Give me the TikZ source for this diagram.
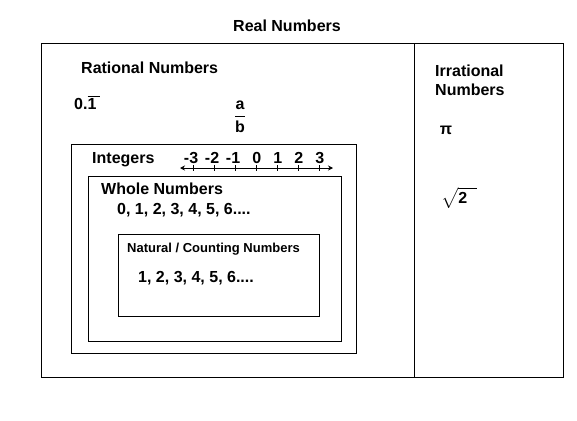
\documentclass[tikz,border=0pt]{standalone}
\usepackage{fontspec}
\setmainfont{Liberation Sans}
\usepackage{amsmath}
\usetikzlibrary{arrows.meta,positioning}

\newcommand{\repeating}[1]{\vbox{\hrule height 0.8pt\kern1.5pt\hbox{#1\kern4pt}}}

\begin{document}
\begin{tikzpicture}[
    x=1pt, y=-1pt,
    set/.style={rectangle, draw, line width=1pt, anchor=north west, inner sep=0pt},
    txt/.style={font=\fontsize{16}{19}\selectfont\bfseries, inner sep=0pt},
    small/.style={font=\fontsize{13}{16}\selectfont\bfseries, inner sep=0pt},
    numline/.style={line width=0.8pt, {Stealth[length=5pt,width=5pt]}-{Stealth[length=5pt,width=5pt]}}
]
\useasboundingbox (0,0) rectangle (577,420);

% Real Numbers
\node[txt] (real) at (287,26) {Real Numbers};
\node[set, minimum width=373pt, minimum height=334pt] (rational) at (41,43) {};
\node[set, minimum width=149pt, minimum height=334pt] (irrational) at (414,43) {};

% Rational side
\node[txt, anchor=west] (ratlabel) at (81,68) {Rational Numbers};
\node[txt, anchor=west] (repdec) at (74,103) {0.\repeating{1}};
\node[txt] (ratio) at (240,115) {$\dfrac{\textbf{a}\vphantom{b}}{\textbf{b}}$};

% Integers
\node[set, minimum width=285pt, minimum height=209pt] (integers) at (71,144) {};
\node[txt, anchor=west] (intlabel) at (92,160) {Integers};
\coordinate (lineL) at (180,168);
\coordinate (lineR) at (333,168);
\draw[numline] (lineL) -- (lineR);
\foreach \n in {-3,...,3} {
    \pgfmathtruncatemacro\m{abs(\n)}
    \draw[line width=0.8pt] (256.7+21*\n,165) -- (256.7+21*\n,171);
    \node[txt, anchor=base] (tick\m\ifnum\n<0 n\fi) at (256.7+21*\n,163.5) {\ifnum\n<0 \llap{-}\fi\m};
}

% Whole Numbers
\node[set, minimum width=253pt, minimum height=165pt] (whole) at (88,176) {};
\node[txt, anchor=west] (wholelabel) at (101,189) {Whole Numbers};
\node[txt, anchor=west] (wholelist) at (117,210) {0, 1, 2, 3, 4, 5, 6....};

% Natural / Counting Numbers
\node[set, minimum width=201pt, minimum height=82pt] (natural) at (118,234) {};
\node[small, anchor=west] (natlabel) at (127,249) {Natural / Counting Numbers};
\node[txt, anchor=west] (natlist) at (138,278) {1, 2, 3, 4, 5, 6....};

% Irrational side
\node[txt, anchor=west, align=left] (irrlabel) at (435,80) {Irrational\\Numbers};
\node[txt] (pi) at (446,130) {π};
\node[txt, anchor=west] (root) at (441,198) {$\sqrt{\mathstrut\textbf{2}\hspace{10pt}}$};

\end{tikzpicture}
\end{document}
